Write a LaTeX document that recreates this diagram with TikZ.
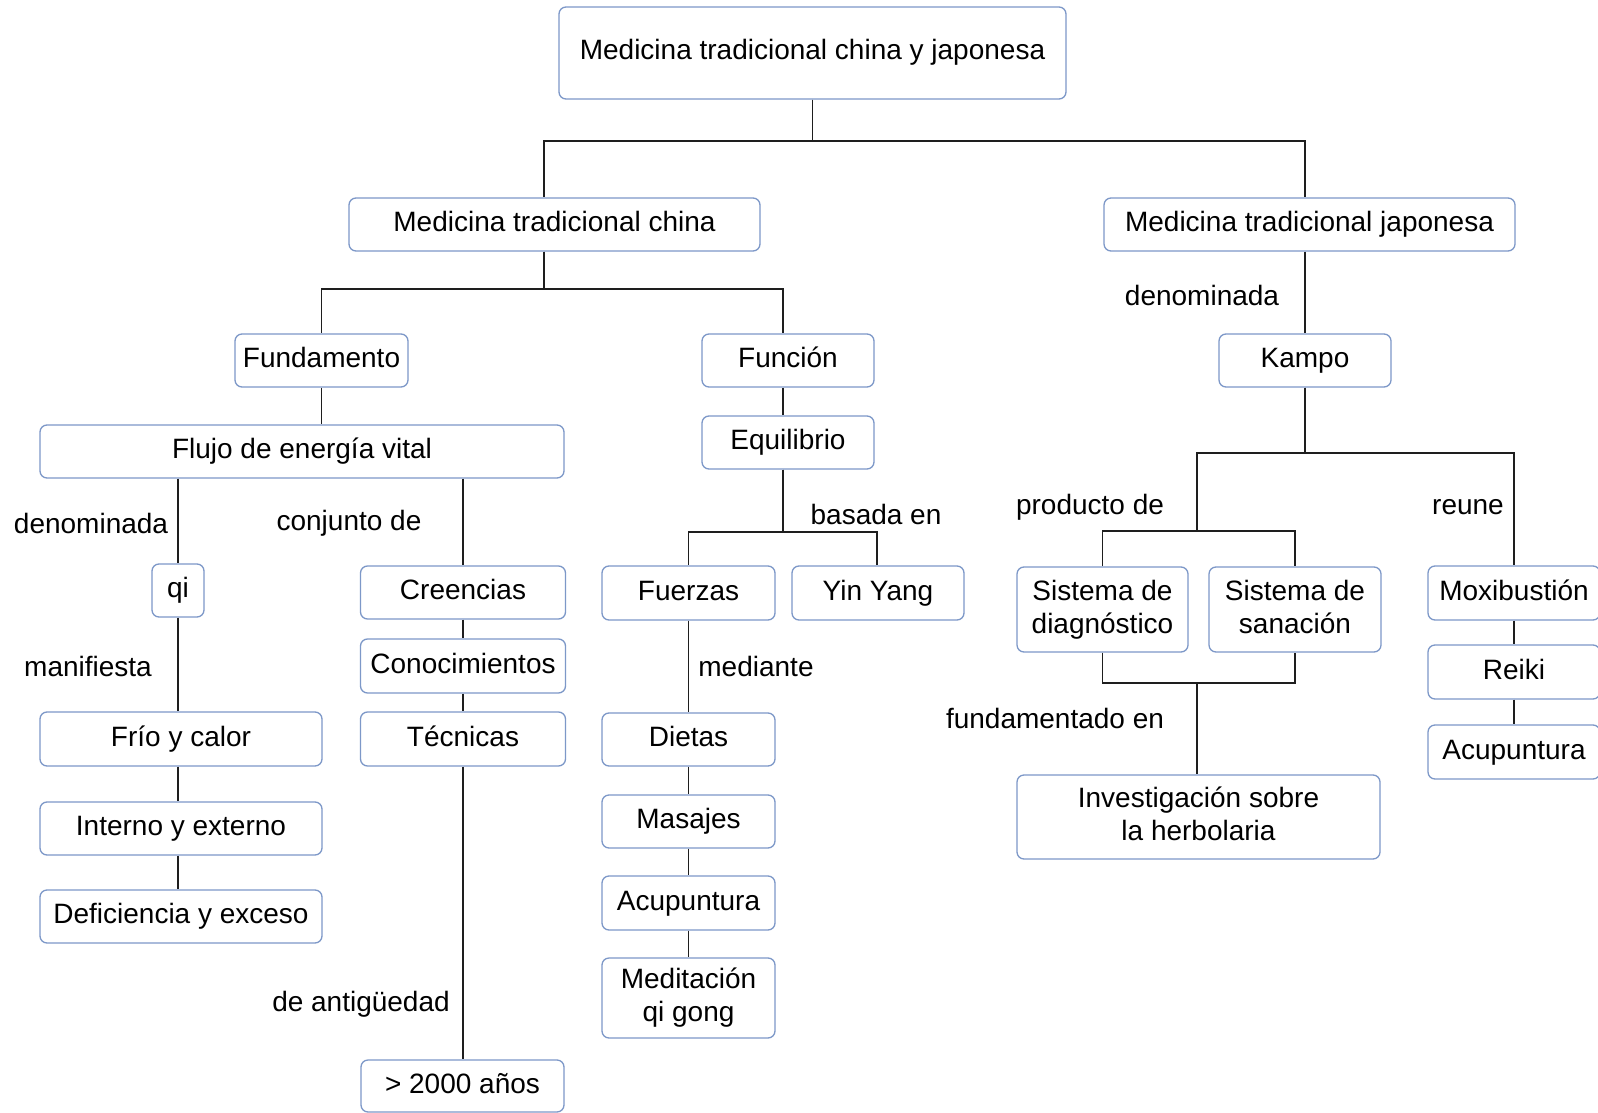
\documentclass[tikz,border=0pt]{standalone}
\usepackage{fontspec}
\setmainfont{Liberation Sans}
\definecolor{boxc}{RGB}{125,152,200}
\definecolor{linec}{RGB}{30,30,30}
\newcommand\mystrut{\rule[-6pt]{0pt}{26pt}}
\tikzset{
  boxbase/.style={draw=boxc, line width=1.3pt, rounded corners=7pt, fill=white,
    font=\fontsize{28}{33}\selectfont, align=center, inner sep=0pt},
  box/.style={boxbase, text height=20pt, text depth=6pt},
  boxtwo/.style={boxbase},
  conn/.style={line width=1.8pt, draw=linec},
  lbl/.style={font=\fontsize{28}{33}\selectfont, inner sep=0pt, text=black, text height=20pt, text depth=6pt}
}
\begin{document}
\begin{tikzpicture}[x=1pt,y=-1pt]
\useasboundingbox[fill=white] (0,0) rectangle (1598,1113);
% nodes
\node[box, minimum width=507, minimum height=92] (top) at (812.5,53) {Medicina tradicional china y japonesa};
\node[box, minimum width=411, minimum height=53] (china) at (554.5,224.5) {Medicina tradicional china};
\node[box, minimum width=411, minimum height=53] (japonesa) at (1309.5,224.5) {Medicina tradicional japonesa};
\node[box, minimum width=173, minimum height=53] (fund) at (321.5,360.5) {Fundamento};
\node[box, minimum width=172, minimum height=53] (funcion) at (788,360.5) {Función};
\node[box, minimum width=172, minimum height=53] (kampo) at (1305,360.5) {Kampo};
\node[box, minimum width=524, minimum height=53] (flujo) at (302,451.5) {Flujo de energía vital};
\node[box, minimum width=172, minimum height=53] (equil) at (788,442.5) {Equilibrio};
\node[box, minimum width=52, minimum height=53] (qi) at (178,590.5) {qi};
\node[box, minimum width=205, minimum height=53] (creencias) at (463,592.5) {Creencias};
\node[box, minimum width=205, minimum height=54] (conoc) at (463,666) {Conocimientos};
\node[box, minimum width=205, minimum height=54] (tecnicas) at (463,739) {Técnicas};
\node[box, minimum width=282, minimum height=54] (frio) at (181,739) {Frío y calor};
\node[box, minimum width=282, minimum height=53] (interno) at (181,828.5) {Interno y externo};
\node[box, minimum width=282, minimum height=53] (deficiencia) at (181,916.5) {Deficiencia y exceso};
\node[box, minimum width=203, minimum height=52] (anos) at (462.5,1086) {> 2000 años};
\node[box, minimum width=173, minimum height=54] (fuerzas) at (688.5,593) {Fuerzas};
\node[box, minimum width=172, minimum height=54] (yinyang) at (878,593) {Yin Yang};
\node[box, minimum width=173, minimum height=53] (dietas) at (688.5,739.5) {Dietas};
\node[box, minimum width=173, minimum height=53] (masajes) at (688.5,821.5) {Masajes};
\node[box, minimum width=173, minimum height=54] (acu1) at (688.5,903) {Acupuntura};
\node[boxtwo, minimum width=173, minimum height=80] (medit) at (688.5,998) {\mystrut Meditación\\\mystrut qi gong};
\node[boxtwo, minimum width=171, minimum height=85] (diag) at (1102.5,609.5) {\mystrut Sistema de\\\mystrut diagnóstico};
\node[boxtwo, minimum width=172, minimum height=85] (sanacion) at (1295,609.5) {\mystrut Sistema de\\\mystrut sanación};
\node[boxtwo, minimum width=363, minimum height=84] (invest) at (1198.5,817) {\mystrut Investigación sobre\\\mystrut la herbolaria};
\node[box, minimum width=172, minimum height=54] (moxi) at (1514,593) {Moxibustión};
\node[box, minimum width=172, minimum height=54] (reiki) at (1514,672) {Reiki};
\node[box, minimum width=172, minimum height=54] (acu2) at (1514,752) {Acupuntura};
% labels
\node[lbl] (l1) at (1202,298) {denominada};
\node[lbl] (l2) at (91,526) {denominada};
\node[lbl] (l3) at (349,523) {conjunto de};
\node[lbl] (l4) at (88,669) {manifiesta};
\node[lbl] (l5) at (361,1004) {de antigüedad};
\node[lbl] (l6) at (876,517) {basada en};
\node[lbl] (l7) at (756,669) {mediante};
\node[lbl] (l8) at (1090,507) {producto de};
\node[lbl] (l9) at (1468,507) {reune};
\node[lbl] (l10) at (1055,721) {fundamentado en};
% coordinates
\coordinate (pj) at (1197,531);
\coordinate (qj) at (1197,683);
% connectors
\draw[conn] (top.south) -- ++(0,41) -| ([xshift=-10.5]china.north);
\draw[conn] (top.south) -- ++(0,41) -| ([xshift=-4.5]japonesa.north);
\draw[conn] ([xshift=-10.5]china.south) -- ++(0,37) -| (fund.north);
\draw[conn] ([xshift=-10.5]china.south) -- ++(0,37) -| ([xshift=-5]funcion.north);
\draw[conn] (fund.south) -- (fund.south |- flujo.north);
\draw[conn] (qi.north |- flujo.south) -- (qi.north);
\draw[conn] (qi.south) -- (qi.south |- frio.north);
\draw[conn] (frio.south -| qi.south) -- (interno.north -| qi.south);
\draw[conn] (interno.south -| qi.south) -- (deficiencia.north -| qi.south);
\draw[conn] (creencias.north |- flujo.south) -- (creencias.north);
\draw[conn] (creencias.south) -- (conoc.north);
\draw[conn] (conoc.south) -- (tecnicas.north);
\draw[conn] (tecnicas.south) -- (anos.north -| tecnicas.south);
\draw[conn] ([xshift=-5]funcion.south) -- ([xshift=-5]equil.north);
\draw[conn] ([xshift=-5]equil.south) -- ++(0,62) -| (fuerzas.north);
\draw[conn] ([xshift=-5]equil.south) -- ++(0,62) -| ([xshift=-1]yinyang.north);
\draw[conn] (fuerzas.south) -- (dietas.north);
\draw[conn] (dietas.south) -- (masajes.north);
\draw[conn] (masajes.south) -- (acu1.north);
\draw[conn] (acu1.south) -- (medit.north);
\draw[conn] (kampo.north |- japonesa.south) -- (kampo.north);
\draw[conn] (kampo.south) -- ++(0,65) -| (moxi.north);
\draw[conn] (kampo.south) -- ++(0,65) -| (pj);
\draw[conn] (diag.north) |- (pj) -| (sanacion.north);
\draw[conn] (diag.south) |- (qj) -| (sanacion.south);
\draw[conn] (qj) -- (invest.north -| qj);
\draw[conn] (moxi.south) -- (reiki.north);
\draw[conn] (reiki.south) -- (acu2.north);
\end{tikzpicture}
\end{document}
